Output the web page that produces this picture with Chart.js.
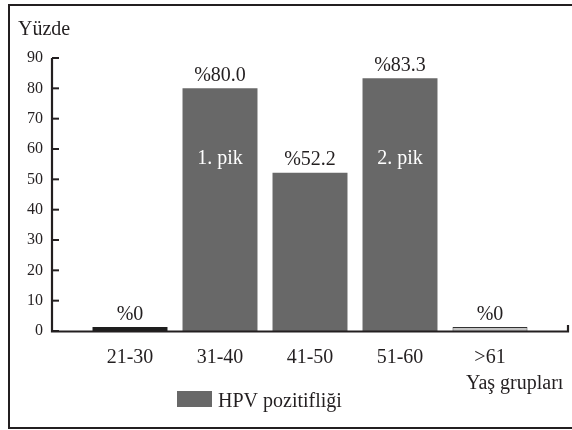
<!DOCTYPE html>
<html>
<head>
<meta charset="utf-8">
<script src="https://cdn.jsdelivr.net/npm/chart.js@4/dist/chart.umd.min.js"></script>
<style>
  html, body { margin: 0; padding: 0; background: #fff; }
  #wrap { width: 572px; height: 430px; }
</style>
</head>
<body>
<div id="wrap"><canvas id="c" width="572" height="430"></canvas></div>
<script>
// Age groups and HPV positivity (%)
const categories = ['21-30', '31-40', '41-50', '51-60', '>61'];
const positivity = [0, 80.0, 52.2, 83.3, 0];
const peakLabels = ['', '1. pik', '', '2. pik', ''];
const yTicks = [0, 10, 20, 30, 40, 50, 60, 70, 80, 90];
const seriesName = 'HPV pozitifliği';
const yTitle = 'Yüzde';
const xTitle = 'Yaş grupları';

const INK = '#231f20';
const BAR = '#686868';
const SERIF = "'Liberation Serif', 'Times New Roman', serif";

// axis frame extends past the bar band on both sides
const AXIS_LEFT = 52;
const AXIS_RIGHT = 568;

// Zero-value groups get their own thin marks
const fills = positivity.map((v, i) => v === 0 ? (i === 0 ? '#1e1e1e' : '#c4c4c4') : BAR);
const borders = positivity.map((v, i) => v === 0 ? (i === 0 ? '#1e1e1e' : '#333333') : BAR);
const borderWidths = positivity.map((v, i) => (v === 0 && i > 0) ? 1 : 0);

const frame = {
  id: 'frame',
  beforeDraw(chart) {
    const ctx = chart.ctx;
    ctx.save();
    ctx.fillStyle = '#fff';
    ctx.fillRect(0, 0, chart.width, chart.height);
    ctx.strokeStyle = INK;
    ctx.lineWidth = 2;
    ctx.strokeRect(9, 5, 600, 423);
    ctx.restore();
  },
  afterDatasetsDraw(chart) {
    const ctx = chart.ctx;
    const ys = chart.scales.y;
    const y0 = ys.getPixelForValue(0);
    ctx.save();
    ctx.strokeStyle = INK;
    ctx.lineWidth = 2.2;
    ctx.lineCap = 'butt';
    // axes
    ctx.beginPath();
    ctx.moveTo(AXIS_LEFT, ys.getPixelForValue(yTicks[yTicks.length - 1]));
    ctx.lineTo(AXIS_LEFT, y0 + 0.5);
    ctx.lineTo(AXIS_RIGHT, y0 + 0.5);
    ctx.lineTo(AXIS_RIGHT, y0 - 6);
    ctx.stroke();
    // inward tick marks on the value axis
    ctx.lineWidth = 2;
    yTicks.forEach(t => {
      const p = ys.getPixelForValue(t);
      ctx.beginPath();
      ctx.moveTo(AXIS_LEFT, p);
      ctx.lineTo(AXIS_LEFT + 7, p);
      ctx.stroke();
    });
    // value labels above bars, peak labels inside
    const meta = chart.getDatasetMeta(0);
    ctx.font = '20px ' + SERIF;
    ctx.textAlign = 'center';
    ctx.textBaseline = 'alphabetic';
    meta.data.forEach((bar, i) => {
      const v = positivity[i];
      const txt = '%' + (v === 0 ? '0' : v.toFixed(1));
      ctx.fillStyle = INK;
      ctx.fillText(txt, bar.x, bar.y - 7.5);
      if (peakLabels[i]) {
        ctx.fillStyle = '#ffffff';
        ctx.fillText(peakLabels[i], bar.x, ys.getPixelForValue(55));
      }
    });
    ctx.restore();
  },
  afterDraw(chart) {
    const ctx = chart.ctx;
    ctx.save();
    ctx.fillStyle = INK;
    ctx.font = '20px ' + SERIF;
    ctx.textBaseline = 'alphabetic';
    ctx.textAlign = 'left';
    ctx.fillText(yTitle, 18, 35);
    ctx.fillText(xTitle, 466, 389);
    // legend
    const ds = chart.data.datasets[0];
    ctx.fillStyle = BAR;
    ctx.fillRect(177, 391, 35, 16);
    ctx.fillStyle = INK;
    ctx.fillText(ds.label, 218, 407);
    ctx.restore();
  }
};

new Chart(document.getElementById('c'), {
  type: 'bar',
  data: {
    labels: categories,
    datasets: [{
      label: seriesName,
      data: positivity,
      backgroundColor: fills,
      borderColor: borders,
      borderWidth: borderWidths,
      minBarLength: 4,
      barPercentage: 0.833,
      categoryPercentage: 1
    }]
  },
  options: {
    responsive: false,
    animation: false,
    devicePixelRatio: 1,
    layout: { padding: { top: 58, left: 0, right: 37, bottom: 59 } },
    plugins: { legend: { display: false }, tooltip: { enabled: false } },
    scales: {
      x: {
        grid: { display: false, drawTicks: false },
        border: { display: false },
        ticks: {
          color: INK,
          font: { family: SERIF, size: 20 },
          padding: 15,
          maxRotation: 0,
          autoSkip: false
        },
        afterFit: s => { s.height = 40; }
      },
      y: {
        min: 0,
        max: 90,
        grid: { display: false, drawTicks: false },
        border: { display: false },
        ticks: {
          color: INK,
          font: { family: SERIF, size: 16 },
          padding: 42,
          stepSize: 10
        },
        afterBuildTicks: s => { s.ticks = yTicks.map(v => ({ value: v })); },
        afterFit: s => { s.width = 85; }
      }
    }
  },
  plugins: [frame]
});
</script>
</body>
</html>
